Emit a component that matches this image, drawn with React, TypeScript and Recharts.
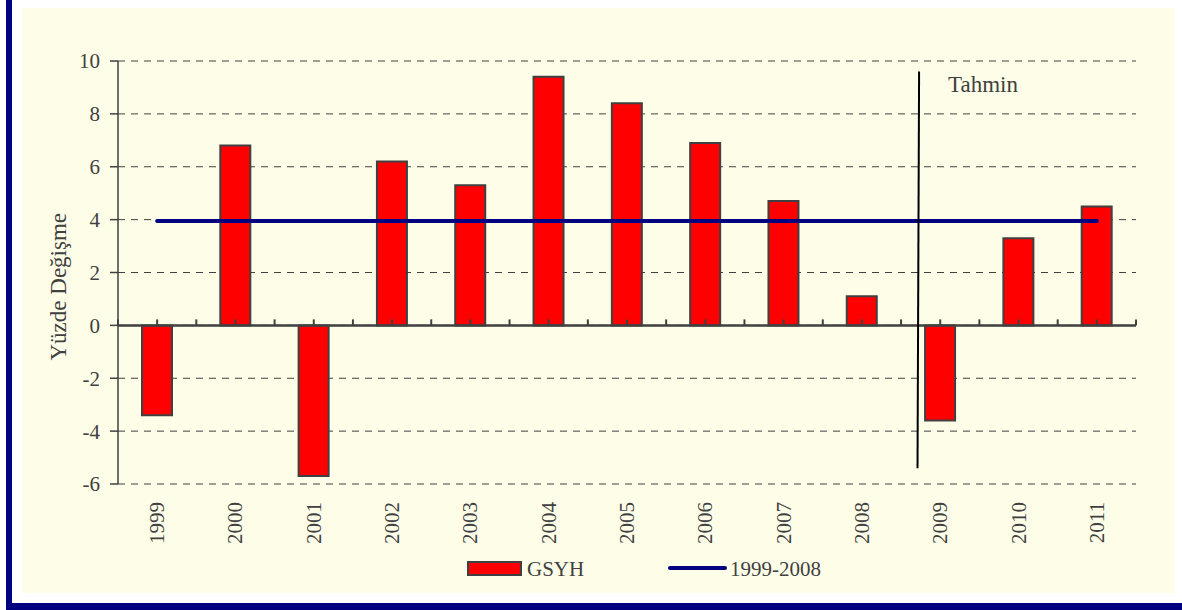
import React from 'react'
import {
  ComposedChart,
  Bar,
  Line,
  XAxis,
  YAxis,
  CartesianGrid,
  ReferenceLine,
  Legend,
} from 'recharts'

const years = ['1999', '2000', '2001', '2002', '2003', '2004', '2005', '2006', '2007', '2008', '2009', '2010', '2011']
const gsyh = [-3.4, 6.8, -5.7, 6.2, 5.3, 9.4, 8.4, 6.9, 4.7, 1.1, -3.6, 3.3, 4.5]
const avg9908 = [3.95, 3.95, 3.95, 3.95, 3.95, 3.95, 3.95, 3.95, 3.95, 3.95, 3.95, 3.95, 3.95]
const yTicks = [-6, -4, -2, 0, 2, 4, 6, 8, 10]
// forecast divider, in category units (0..13) on a hidden numeric axis
const forecastLine = [
  { x: 10.23, y: 9.6 },
  { x: 10.21, y: -5.4 },
]

const FONT = "'Liberation Serif', 'Times New Roman', serif"
const TEXT = '#404040'

const data = years.map((year, i) => ({ year, gsyh: gsyh[i], avg: avg9908[i] }))

const YearTick = (props: any) => {
  const { x, y, payload } = props
  return (
    <text
      x={x}
      y={y}
      transform={`rotate(-90 ${x} ${y})`}
      textAnchor="end"
      dominantBaseline="central"
      fill={TEXT}
      fontSize={21}
      fontFamily={FONT}
    >
      {payload.value}
    </text>
  )
}

// zero line with small upward tick marks at category edges and centres
const ZeroLine = (props: any) => {
  const { x1, y1, x2 } = props
  const n = years.length * 2
  const step = (x2 - x1) / n
  const ticks = []
  for (let i = 0; i <= n; i++) {
    const tx = x1 + i * step
    ticks.push(<line key={i} x1={tx} x2={tx} y1={y1} y2={y1 - 6} stroke={TEXT} strokeWidth={2} />)
  }
  return (
    <g>
      <line x1={x1} x2={x2} y1={y1} y2={y1} stroke={TEXT} strokeWidth={2.5} />
      {ticks}
    </g>
  )
}

const ForecastLine = (props: any) => {
  const { x1, y1, x2, y2 } = props
  return (
    <g>
      <line x1={x1} y1={y1} x2={x2} y2={y2} stroke="#000" strokeWidth={2} />
      <text x={x1 + 29} y={y1 + 20} fill={TEXT} fontSize={23} fontFamily={FONT}>
        Tahmin
      </text>
    </g>
  )
}

const renderLegend = () => (
  <div style={{ position: 'relative', width: 1182, height: 30 }}>
    <svg width={1182} height={30} style={{ position: 'absolute', left: 0, top: 0 }}>
      <rect x={468} y={8} width={53} height={13} fill="#ff0000" stroke={TEXT} strokeWidth={2} />
      <text x={527} y={22} fill={TEXT} fontSize={21} fontFamily={FONT}>GSYH</text>
      <line x1={670} x2={725} y1={14} y2={14} stroke="#000080" strokeWidth={4} strokeLinecap="round" />
      <text x={730} y={22} fill={TEXT} fontSize={21} fontFamily={FONT}>1999-2008</text>
    </svg>
  </div>
)

export default function App() {
  return (
    <div style={{ position: 'absolute', left: 0, top: 0, width: 1182, height: 610, background: '#fff', fontFamily: FONT }}>
      <div style={{ position: 'absolute', left: 6, top: 0, width: 6, height: 610, background: '#000080' }} />
      <div style={{ position: 'absolute', left: 6, top: 603, width: 1176, height: 7, background: '#000080' }} />
      <div style={{ position: 'absolute', left: 22, top: 8, width: 1153, height: 585, background: '#fefee8' }} />
      <div style={{ position: 'absolute', left: 0, top: 0 }}>
        <ComposedChart
          width={1182}
          height={610}
          data={data}
          margin={{ top: 61, right: 46, left: 58, bottom: 26 }}
          style={{ fontFamily: FONT }}
        >
          <CartesianGrid
            xAxisId="cat"
            vertical={false}
            stroke={TEXT}
            strokeDasharray="7 6"
          />
          <XAxis
            xAxisId="cat"
            dataKey="year"
            axisLine={false}
            tickLine={false}
            tickSize={0}
            tickMargin={18}
            height={70}
            interval={0}
            tick={<YearTick />}
          />
          <XAxis xAxisId="t" dataKey="fc" type="number" domain={[0, 13]} hide allowDataOverflow />
          <YAxis
            domain={[-6, 10]}
            ticks={yTicks}
            width={60}
            interval={0}
            axisLine={{ stroke: TEXT, strokeWidth: 1.5 }}
            tickLine={{ stroke: TEXT, strokeWidth: 1.5 }}
            tickSize={8}
            tickMargin={10}
            tick={{ fill: TEXT, fontSize: 21, fontFamily: FONT }}
            label={{
              value: 'Yüzde Değişme',
              angle: -90,
              position: 'insideLeft',
              offset: 0,
              dx: 0,
              dy: 88,
              fill: TEXT,
              fontSize: 23,
              fontFamily: FONT,
            }}
          />
          <Bar
            xAxisId="cat"
            dataKey="gsyh"
            name="GSYH"
            fill="#ff0000"
            stroke={TEXT}
            strokeWidth={2}
            barSize={30}
            isAnimationActive={false}
          />
          <ReferenceLine xAxisId="cat" y={0} shape={<ZeroLine />} />
          <Line
            xAxisId="cat"
            dataKey="avg"
            name="1999-2008"
            stroke="#000080"
            strokeWidth={4}
            strokeLinecap="round"
            dot={false}
            activeDot={false}
            isAnimationActive={false}
          />
          <ReferenceLine
            xAxisId="t"
            segment={forecastLine}
            ifOverflow="visible"
            shape={<ForecastLine />}
          />
          <Legend
            verticalAlign="bottom"
            height={30}
            content={renderLegend}
            wrapperStyle={{ left: 0, width: 1182 }}
          />
        </ComposedChart>
      </div>
    </div>
  )
}
